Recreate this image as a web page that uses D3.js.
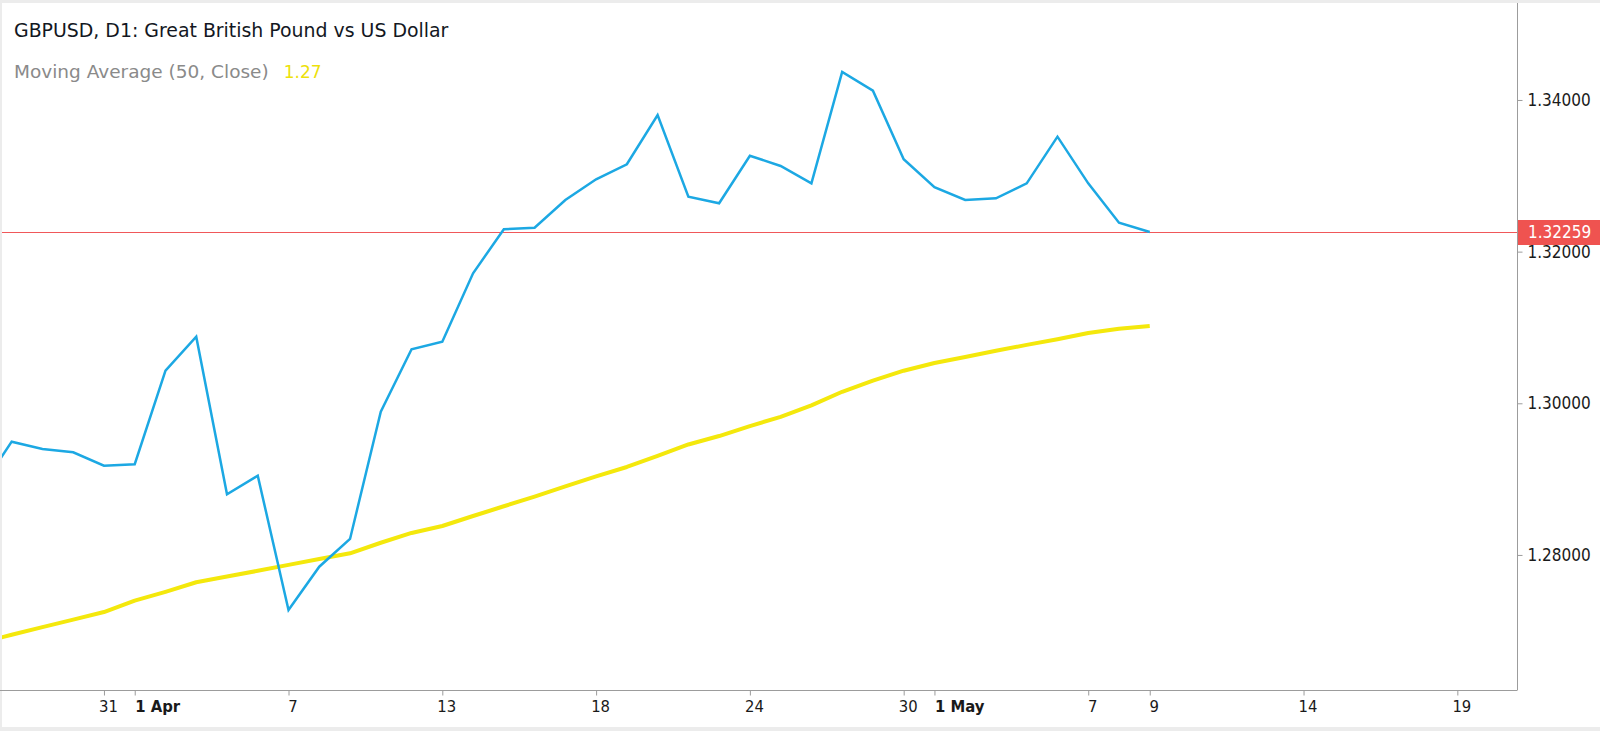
<!DOCTYPE html>
<html>
<head>
<meta charset="utf-8">
<script src="https://cdn.jsdelivr.net/npm/d3@7"></script>
<style>
  html, body { margin: 0; padding: 0; background: #ffffff; }
  svg { display: block; }
  .cond { font-family: "DejaVu Sans Condensed", "DejaVu Sans", "Liberation Sans", sans-serif; font-stretch: condensed; }
  .norm { font-family: "DejaVu Sans", "Liberation Sans", sans-serif; }
</style>
</head>
<body>
<svg id="chart" width="1600" height="731"></svg>
<script>
// ---- data (bar index starts at -1, the first bar is cut off by the left edge) ----
const barIndex = d3.range(-1, 38);
const closeValues = [
  1.28883, 1.29494, 1.29398, 1.29354, 1.29177, 1.29196, 1.30430, 1.30879, 1.28800, 1.29045,
  1.27274, 1.27845, 1.28211, 1.29890, 1.30712, 1.30813, 1.31715, 1.32295, 1.32316, 1.32681,
  1.32954, 1.33152, 1.33802, 1.32725, 1.32638, 1.33265, 1.33130, 1.32901, 1.34369, 1.34123,
  1.33218, 1.32850, 1.32681, 1.32704, 1.32901, 1.33516, 1.32901, 1.32382, 1.32259
];
const maValues = [
  1.26847, 1.26947, 1.27048, 1.27147, 1.27247, 1.27397, 1.27514, 1.27640, 1.27715, 1.27791,
  1.27869, 1.27946, 1.28022, 1.28161, 1.28290, 1.28382, 1.28514, 1.28642, 1.28769, 1.28904,
  1.29036, 1.29160, 1.29307, 1.29457, 1.29568, 1.29700, 1.29820, 1.29973, 1.30152, 1.30298,
  1.30430, 1.30532, 1.30611, 1.30693, 1.30770, 1.30845, 1.30927, 1.30984, 1.31020
];
const lastPrice = 1.32259;
const priceTicks = [1.28, 1.30, 1.32, 1.34];
const timeTickIndex = [3, 4, 9, 14, 19, 24, 29, 30, 35, 37, 42, 47];
const timeTickLabels = ["31", "1 Apr", "7", "13", "18", "24", "30", "1 May", "7", "9", "14", "19"];
const timeTickBold = ["1 Apr", "1 May"];
const titleText = "GBPUSD, D1: Great British Pound vs US Dollar";
const maLegendText = "Moving Average (50, Close)";
const maLegendValue = "1.27";

// ---- layout ----
const W = 1600, H = 731;
const plotLeft = 0, plotRight = 1517, plotTop = 3, plotBottom = 690;
const svg = d3.select("#chart");

const x = d3.scaleLinear().domain([-0.38, 48.94]).range([plotLeft, plotRight]);
const y = d3.scaleLinear().domain([1.26219, 1.35279]).range([plotBottom, plotTop]);

// frame strips
svg.append("rect").attr("x", 0).attr("y", 0).attr("width", W).attr("height", 3).attr("fill", "#ececec");
svg.append("rect").attr("x", 0).attr("y", 727).attr("width", W).attr("height", 4).attr("fill", "#ececec");
svg.append("rect").attr("x", 0).attr("y", 0).attr("width", 2).attr("height", H).attr("fill", "#ececec");

svg.append("clipPath").attr("id", "plotclip")
  .append("rect").attr("x", 2).attr("y", plotTop).attr("width", plotRight - 2).attr("height", plotBottom - plotTop);

const plot = svg.append("g").attr("clip-path", "url(#plotclip)");

// last price line
plot.append("line")
  .attr("x1", plotLeft).attr("x2", plotRight)
  .attr("y1", Math.round(y(lastPrice)) + 0.5).attr("y2", Math.round(y(lastPrice)) + 0.5)
  .attr("stroke", "#f0585a").attr("stroke-width", 1);

const maData = barIndex.map((b, i) => [b, maValues[i]]);
const closeData = barIndex.map((b, i) => [b, closeValues[i]]);
const line = d3.line().x(d => x(d[0])).y(d => y(d[1]));

plot.append("path").datum(maData).attr("d", line)
  .attr("fill", "none").attr("stroke", "#f4e80c").attr("stroke-width", 4)
  .attr("stroke-linejoin", "round").attr("stroke-linecap", "butt");

plot.append("path").datum(closeData).attr("d", line)
  .attr("fill", "none").attr("stroke", "#1ca8e3").attr("stroke-width", 2.5)
  .attr("stroke-linejoin", "miter").attr("stroke-linecap", "butt");

// right price axis
const yAxis = d3.axisRight(y).tickValues(priceTicks).tickFormat(d3.format(".5f")).tickSize(5).tickPadding(5);
const gy = svg.append("g").attr("transform", `translate(${plotRight + 0.5},0)`).call(yAxis);
gy.select(".domain").attr("d", `M0,${plotTop}V${plotBottom}`).attr("stroke", "#9c9c9c");
gy.selectAll(".tick line").attr("stroke", "#9c9c9c");
gy.selectAll(".tick text").attr("class", "cond").attr("font-size", 17).attr("fill", "#1a1a1a");

// bottom time axis
const xAxis = d3.axisBottom(x).tickValues(timeTickIndex)
  .tickFormat((d, i) => timeTickLabels[i]).tickSize(5).tickPadding(5);
const gx = svg.append("g").attr("transform", `translate(0,${plotBottom + 0.5})`).call(xAxis);
gx.select(".domain").attr("d", `M${plotLeft},0H${plotRight + 0.5}`).attr("stroke", "#9c9c9c");
gx.selectAll(".tick line").attr("stroke", "#9c9c9c");
gx.selectAll(".tick text")
  .attr("class", "cond").attr("font-size", 16.5).attr("fill", "#1a1a1a")
  .attr("font-weight", (d, i) => timeTickBold.includes(timeTickLabels[i]) ? "bold" : "normal")
  .attr("text-anchor", (d, i) => timeTickBold.includes(timeTickLabels[i]) ? "start" : "middle")
  .attr("dx", (d, i) => timeTickBold.includes(timeTickLabels[i]) ? 0 : 4);

// last price label box
const lp = y(lastPrice);
svg.append("rect").attr("x", plotRight + 1).attr("y", lp - 12).attr("width", W - plotRight - 1).attr("height", 25)
  .attr("fill", "#ef5350");
svg.append("text").attr("class", "cond").attr("x", 1528).attr("y", lp + 0.5).attr("dy", "0.35em")
  .attr("font-size", 17).attr("fill", "#ffffff").text(d3.format(".5f")(lastPrice));

// title & legend
svg.append("text").attr("class", "norm").attr("x", 14).attr("y", 37)
  .attr("font-size", 18.9).attr("fill", "#131722").text(titleText);
const leg = svg.append("text").attr("class", "norm").attr("x", 14).attr("y", 78).attr("font-size", 18.5);
leg.append("tspan").attr("fill", "#8a8a8a").text(maLegendText);
leg.append("tspan").attr("fill", "#ede10a").attr("dx", 15).attr("font-size", 17).text(maLegendValue);
</script>
</body>
</html>
